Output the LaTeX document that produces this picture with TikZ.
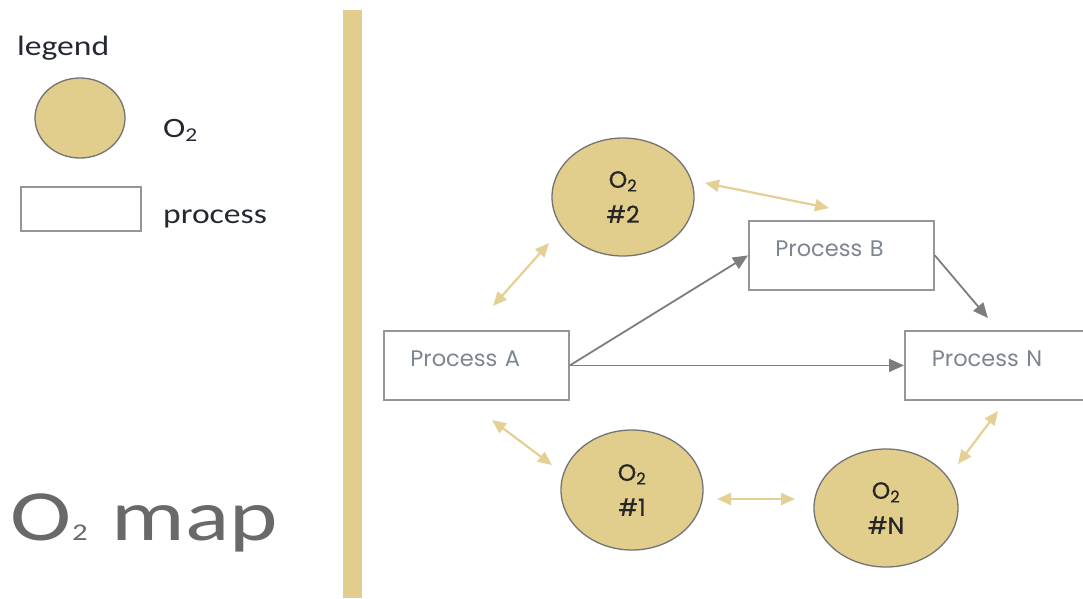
\documentclass[tikz,border=0pt]{standalone}
\usepackage{fontspec}
\setmainfont{Carlito}
\newfontfamily\legendfont{Carlito}[FakeStretch=1.2]
\newfontfamily\titlefont{Carlito}[FakeStretch=1.28]
\newfontfamily\procfont{Poppins}
\newfontfamily\blobfont{Poppins}[FakeBold=0.8]
\usetikzlibrary{arrows.meta, positioning, shapes.geometric, calc}

\definecolor{o2tan}{RGB}{226,206,140}
\definecolor{o2edge}{RGB}{115,115,115}
\definecolor{linktan}{RGB}{228,208,148}
\definecolor{flowgray}{RGB}{125,125,125}
\definecolor{boxgray}{RGB}{150,150,150}
\definecolor{proctxt}{RGB}{125,133,146}
\definecolor{lgdtxt}{RGB}{35,40,50}
\definecolor{titlegray}{RGB}{105,105,105}

\tikzset{%
   % O2 blob: filled ellipse, two centred lines
   o2node/.style={
      ellipse,
      draw=o2edge,
      line width=1.3pt,
      fill=o2tan,
      inner sep=0pt,
      align=center,
      text=black!85,
      font=\blobfont\fontsize{23.5}{35}\selectfont
   },
   box/.style={
      rectangle,
      draw=boxgray,
      line width=1.8pt,
      fill=white
   },
   % process box: label sits top left
   proc/.style={
      box,
      anchor=north west,
      minimum width=185pt,
      minimum height=69pt,
      text width=132pt,
      inner xsep=26pt,
      align=left,
      text depth=14pt,
      text=proctxt,
      font=\procfont\fontsize{22.5}{26}\selectfont
   },
   legendtxt/.style={
      anchor=base west,
      inner sep=0pt,
      text=lgdtxt,
      font=\legendfont\fontsize{28}{32}\selectfont
   },
   flow/.style={
      draw=flowgray,
      line width=1.8pt,
      -{Triangle[length=15pt,width=13pt]}
   },
   o2link/.style={
      draw=linktan,
      line width=2.2pt,
      {Triangle[length=14pt,width=12pt]}-{Triangle[length=14pt,width=12pt]}
   },
}

\begin{document}
\begin{tikzpicture}[x=1pt, y=-1pt]
   \useasboundingbox (0,0) rectangle (1083,598);
   \fill[o2tan] (343,10) rectangle (362,598);

   % legend
   \node[legendtxt] (lgd) at (17,55) {legend};
   \node[o2node, minimum width=90pt, minimum height=80pt] (lgdo) at (80,118) {};
   \node[legendtxt] (lgdotxt) at (163,137) {O\textsubscript{2}};
   \node[box, minimum width=120pt, minimum height=44pt] (lgdp) at (81,209) {};
   \node[legendtxt] (lgdptxt) at (163,223) {process};
   \node[anchor=base west, inner sep=0pt, text=titlegray,
         font=\titlefont\fontsize{72}{80}\selectfont] (ttl) at (10,540)
         {O{\fontsize{24}{24}\selectfont\hspace{1pt}2}\hspace{24pt}map};

   % processes
   \node[proc] (pa) at (383,330) {Process A};
   \node[proc] (pb) at (748,220) {Process B};
   \node[proc, minimum width=186pt] (pn) at (904,330) {Process N};

   % O2 nodes
   \node[o2node, minimum width=142pt, minimum height=118pt] (e2) at (623,197) {O\textsubscript{2}\\\#2};
   \node[o2node, minimum width=142pt, minimum height=120pt] (e1) at (632,490) {O\textsubscript{2}\\\#1};
   \node[o2node, minimum width=144pt, minimum height=118pt] (en) at (886,508) {O\textsubscript{2}\\\#N};

   \draw[flow] (pa.east) -- (pb.west);
   \draw[flow] (pa.east) -- (pn.west);
   \draw[flow] (pb.east) -- ([shift={(-10,-12)}]pn.north);

   % exchange arrows
   \coordinate (a2s) at (493,306);
   \coordinate (a2e) at (549,243);
   \coordinate (b2s) at (705,183);
   \coordinate (b2e) at (829,208);
   \coordinate (a1s) at (492,420);
   \coordinate (a1e) at (552,465);
   \coordinate (n1s) at (717,499);
   \coordinate (n1e) at (795,499);
   \coordinate (nns) at (958,464);
   \coordinate (nne) at (998,411);
   \draw[o2link] (a2s) -- (a2e);
   \draw[o2link] (b2s) -- (b2e);
   \draw[o2link] (a1s) -- (a1e);
   \draw[o2link] (n1s) -- (n1e);
   \draw[o2link] (nns) -- (nne);
\end{tikzpicture}
\end{document}
